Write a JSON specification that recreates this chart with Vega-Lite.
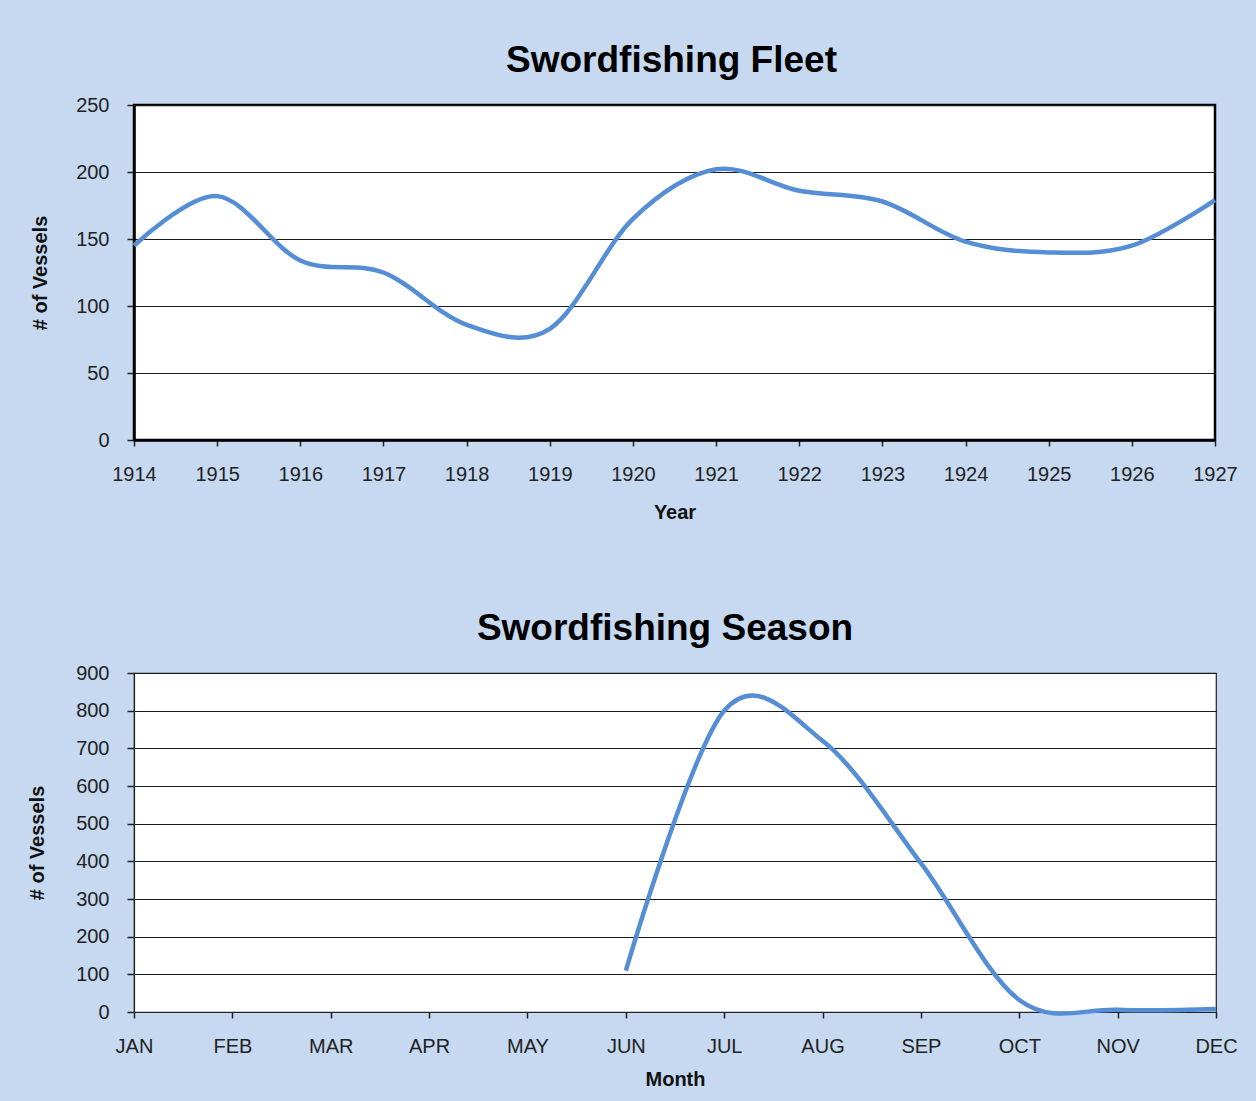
{
  "$schema": "https://vega.github.io/schema/vega-lite/v6.json",
  "background": "#C6D9F0",
  "padding": {"left": 27, "top": 40, "right": 18, "bottom": 12},
  "spacing": 85,
  "config": {
    "font": "Liberation Sans",
    "axis": {
      "labelFont": "Liberation Sans", "labelFontSize": 20, "labelColor": "#222",
      "titleFont": "Liberation Sans", "titleFontSize": 20, "titleFontWeight": "bold", "titleColor": "#111",
      "tickColor": "#222", "tickSize": 7, "tickWidth": 1.5,
      "domainColor": "#111",
      "gridColor": "#1a1a1a", "gridOpacity": 1, "gridWidth": 1.2,
      "labelPadding": 18
    },
    "axisX": {"titlePadding": 18, "labelPadding": 18, "labelFlush": false},
    "axisY": {"titlePadding": 25},
    "title": {"font": "Liberation Sans", "fontSize": 37, "fontWeight": "bold", "color": "#000", "anchor": "middle", "frame": "group", "offset": 15}
  },
  "vconcat": [
    {
      "width": 1081, "height": 335,
      "title": {"text": "Swordfishing Fleet", "dx": -3},
      "view": {"fill": "white", "stroke": "#000", "strokeWidth": 2.5},
      "data": {"values": [
        {"year": 1914, "vessels": 145},
        {"year": 1915, "vessels": 182},
        {"year": 1916, "vessels": 134},
        {"year": 1917, "vessels": 125},
        {"year": 1918, "vessels": 86},
        {"year": 1919, "vessels": 83},
        {"year": 1920, "vessels": 165},
        {"year": 1921, "vessels": 202},
        {"year": 1922, "vessels": 186},
        {"year": 1923, "vessels": 178},
        {"year": 1924, "vessels": 148},
        {"year": 1925, "vessels": 140},
        {"year": 1926, "vessels": 145},
        {"year": 1927, "vessels": 179}
      ]},
      "mark": {"type": "line", "interpolate": "cardinal", "color": "#558ED5", "strokeWidth": 4.5},
      "encoding": {
        "x": {
          "field": "year", "type": "quantitative",
          "scale": {"domain": [1914, 1927], "nice": false, "zero": false},
          "axis": {"title": "Year", "values": [1914,1915,1916,1917,1918,1919,1920,1921,1922,1923,1924,1925,1926,1927], "format": "d", "grid": false, "tickSize": 6, "domainWidth": 2.5, "domainColor": "#000"}
        },
        "y": {
          "field": "vessels", "type": "quantitative",
          "scale": {"domain": [0, 250], "nice": false},
          "axis": {"title": "# of Vessels", "values": [0, 50, 100, 150, 200, 250], "grid": true, "domainWidth": 2.5, "domainColor": "#000"}
        }
      }
    },
    {
      "width": 1082, "height": 339,
      "title": {"text": "Swordfishing Season", "dx": -10},
      "view": {"fill": "white", "stroke": "#222", "strokeWidth": 1.2},
      "data": {"values": [
        {"month": "JUN", "vessels": 110},
        {"month": "JUL", "vessels": 800},
        {"month": "AUG", "vessels": 720},
        {"month": "SEP", "vessels": 395},
        {"month": "OCT", "vessels": 32},
        {"month": "NOV", "vessels": 6},
        {"month": "DEC", "vessels": 8}
      ]},
      "mark": {"type": "line", "interpolate": "cardinal", "color": "#558ED5", "strokeWidth": 4.5},
      "encoding": {
        "x": {
          "field": "month", "type": "ordinal",
          "sort": ["JAN","FEB","MAR","APR","MAY","JUN","JUL","AUG","SEP","OCT","NOV","DEC"],
          "scale": {"type": "point", "padding": 0, "domain": ["JAN","FEB","MAR","APR","MAY","JUN","JUL","AUG","SEP","OCT","NOV","DEC"]},
          "axis": {"title": "Month", "labelAngle": 0, "grid": false, "tickSize": 6, "domainWidth": 1.2, "domainColor": "#222", "titlePadding": 13}
        },
        "y": {
          "field": "vessels", "type": "quantitative",
          "scale": {"domain": [0, 900], "nice": false},
          "axis": {"title": "# of Vessels", "values": [0,100,200,300,400,500,600,700,800,900], "grid": true, "domainWidth": 1.2, "domainColor": "#222", "titlePadding": 28}
        }
      }
    }
  ]
}
